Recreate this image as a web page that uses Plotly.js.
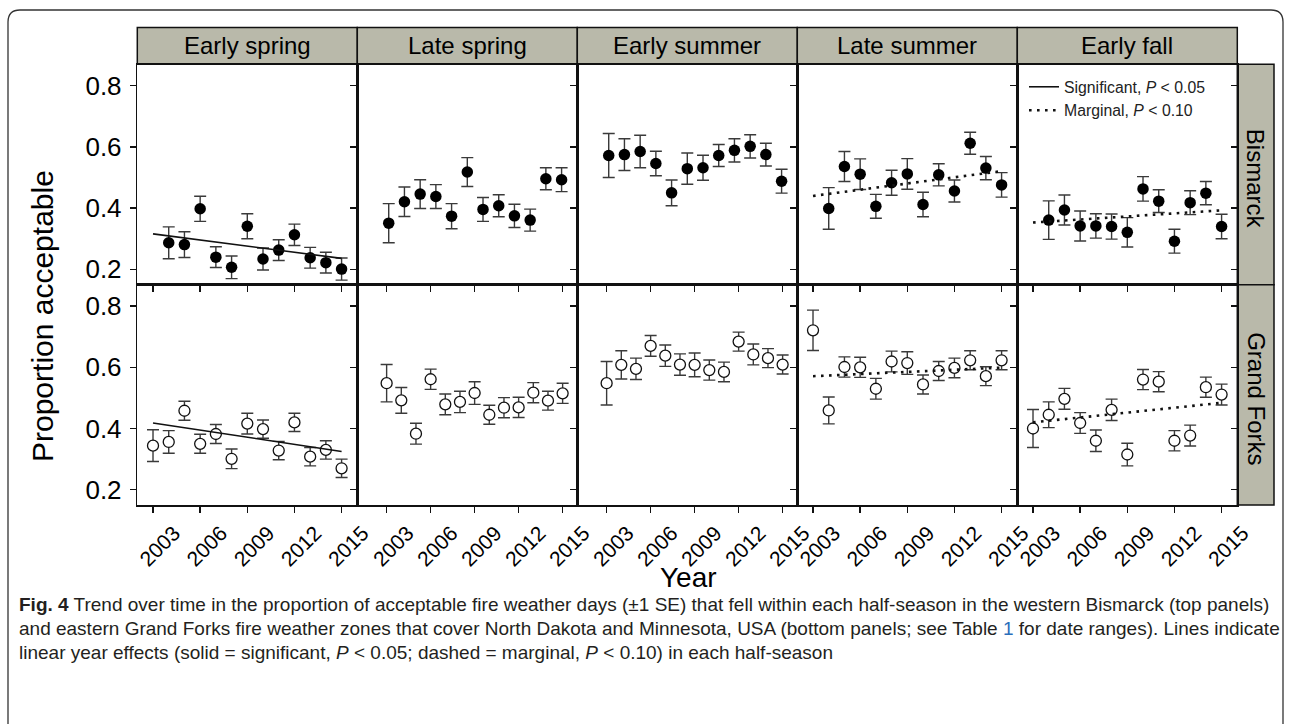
<!DOCTYPE html>
<html>
<head>
<meta charset="utf-8">
<script src="https://cdn.plot.ly/plotly-3.0.1.min.js"></script>
<style>html,body{margin:0;padding:0;background:#fff;}#chart{width:1290px;height:724px;}</style>
</head>
<body>
<div id="chart"></div>
<script>
// ---------------- data ----------------
const seasons = ["Early spring", "Late spring", "Early summer", "Late summer", "Early fall"];
const zones = ["Bismarck", "Grand Forks"];
const yearTicks = [2003, 2006, 2009, 2012, 2015];
const propTicks = [0.2, 0.4, 0.6, 0.8];
const yearsBismarck = [2004, 2005, 2006, 2007, 2008, 2009, 2010, 2011, 2012, 2013, 2014, 2015];
const yearsGrandForks = [2003, 2004, 2005, 2006, 2007, 2008, 2009, 2010, 2011, 2012, 2013, 2014, 2015];
const trendYears = [2003, 2015];

const bisEarlySpring   = [0.287, 0.281, 0.398, 0.240, 0.207, 0.341, 0.234, 0.263, 0.313, 0.238, 0.222, 0.201];
const bisEarlySpringSE = [0.052, 0.042, 0.041, 0.034, 0.037, 0.041, 0.036, 0.034, 0.035, 0.034, 0.034, 0.036];
const bisLateSpring    = [0.351, 0.421, 0.446, 0.438, 0.374, 0.518, 0.396, 0.408, 0.375, 0.361, 0.496, 0.493];
const bisLateSpringSE  = [0.064, 0.048, 0.047, 0.039, 0.041, 0.047, 0.039, 0.036, 0.038, 0.036, 0.036, 0.039];
const bisEarlySummer   = [0.572, 0.575, 0.585, 0.546, 0.450, 0.529, 0.532, 0.572, 0.589, 0.602, 0.575, 0.488];
const bisEarlySummerSE = [0.072, 0.052, 0.053, 0.040, 0.042, 0.051, 0.041, 0.036, 0.038, 0.038, 0.037, 0.039];
const bisLateSummer    = [0.399, 0.536, 0.511, 0.406, 0.483, 0.512, 0.412, 0.509, 0.456, 0.612, 0.531, 0.476];
const bisLateSummerSE  = [0.068, 0.049, 0.050, 0.039, 0.041, 0.050, 0.040, 0.036, 0.036, 0.036, 0.038, 0.040];
const bisEarlyFall     = [0.361, 0.394, 0.342, 0.342, 0.340, 0.321, 0.463, 0.423, 0.292, 0.418, 0.449, 0.340];
const bisEarlyFallSE   = [0.063, 0.049, 0.049, 0.040, 0.041, 0.048, 0.040, 0.037, 0.039, 0.039, 0.038, 0.040];

const gfEarlySpring    = [0.344, 0.356, 0.458, 0.350, 0.382, 0.301, 0.416, 0.398, 0.328, 0.420, 0.308, 0.330, 0.270];
const gfEarlySpringSE  = [0.052, 0.037, 0.031, 0.031, 0.031, 0.032, 0.034, 0.030, 0.030, 0.030, 0.030, 0.030, 0.030];
const gfLateSpring     = [0.548, 0.492, 0.383, 0.561, 0.479, 0.487, 0.516, 0.445, 0.468, 0.469, 0.517, 0.491, 0.515];
const gfLateSpringSE   = [0.061, 0.042, 0.034, 0.033, 0.034, 0.035, 0.037, 0.031, 0.033, 0.033, 0.033, 0.031, 0.033];
const gfEarlySummer    = [0.548, 0.608, 0.595, 0.670, 0.638, 0.609, 0.608, 0.591, 0.585, 0.684, 0.642, 0.630, 0.609];
const gfEarlySummerSE  = [0.071, 0.046, 0.035, 0.034, 0.035, 0.035, 0.039, 0.033, 0.032, 0.031, 0.034, 0.031, 0.031];
const gfLateSummer     = [0.721, 0.459, 0.601, 0.600, 0.530, 0.619, 0.614, 0.544, 0.588, 0.598, 0.623, 0.571, 0.623];
const gfLateSummerSE   = [0.066, 0.044, 0.033, 0.033, 0.034, 0.034, 0.037, 0.031, 0.031, 0.032, 0.031, 0.031, 0.031];
const gfEarlyFall      = [0.400, 0.445, 0.497, 0.418, 0.360, 0.461, 0.315, 0.560, 0.553, 0.360, 0.377, 0.535, 0.511];
const gfEarlyFallSE    = [0.062, 0.042, 0.034, 0.034, 0.035, 0.035, 0.037, 0.033, 0.033, 0.033, 0.034, 0.033, 0.034];

// linear year effects (value at 2003 and 2015)
const bisEarlySpringTrend = [0.316, 0.236];   // significant
const bisLateSummerTrend  = [0.440, 0.521];   // marginal
const bisEarlyFallTrend   = [0.353, 0.393];   // marginal
const gfEarlySpringTrend  = [0.418, 0.325];   // significant
const gfLateSummerTrend   = [0.571, 0.599];   // marginal
const gfEarlyFallTrend    = [0.420, 0.484];   // marginal

const legendSignificant = "Significant, <i>P</i> < 0.05";
const legendMarginal = "Marginal, <i>P</i> < 0.10";
const yTitle = "Proportion acceptable";
const xTitle = "Year";
const captionLines = [
  "<b>Fig. 4</b> Trend over time in the proportion of acceptable fire weather days (±1 SE) that fell within each half-season in the western Bismarck (top panels)",
  "and eastern Grand Forks fire weather zones that cover North Dakota and Minnesota, USA (bottom panels; see Table <span style=\"color:#2a6ebb\">1</span> for date ranges). Lines indicate",
  "linear year effects (solid = significant, <i>P</i> < 0.05; dashed = marginal, <i>P</i> < 0.10) in each half-season"
];

// ---------------- layout helpers ----------------
const W = 1290, H = 724;
const FONT = "Liberation Sans, Arial, Helvetica, sans-serif";
const colX = [137.3, 357.3, 577.3, 797.3, 1017.3, 1237.3];
const rowY = [64.3, 284.7, 505];
const px = x => x / W;
const py = y => 1 - y / H;
const topRange = [2002, 2016];
const bottomRanges = [[2002, 2016], [2001, 2016], [2001, 2016], [2002, 2016], [2002, 2016]];
const yRange = [0.15, 0.87];

const topSeries = [bisEarlySpring, bisLateSpring, bisEarlySummer, bisLateSummer, bisEarlyFall];
const topSE = [bisEarlySpringSE, bisLateSpringSE, bisEarlySummerSE, bisLateSummerSE, bisEarlyFallSE];
const botSeries = [gfEarlySpring, gfLateSpring, gfEarlySummer, gfLateSummer, gfEarlyFall];
const botSE = [gfEarlySpringSE, gfLateSpringSE, gfEarlySummerSE, gfLateSummerSE, gfEarlyFallSE];

const traces = [];
const layout = {
  width: W, height: H,
  margin: {l: 0, r: 0, t: 0, b: 0},
  paper_bgcolor: "#fff", plot_bgcolor: "#fff",
  font: {family: FONT, color: "#000"},
  showlegend: true,
  legend: {x: px(1024), y: py(70), xanchor: "left", yanchor: "top",
           bgcolor: "rgba(0,0,0,0)", font: {family: FONT, size: 15.8, color: "#222"},
           tracegroupgap: 0, itemwidth: 30},
  shapes: [], annotations: []
};

const errStyle = arr => ({type: "data", array: arr, visible: true, color: "#3a3a3a", thickness: 1.4, width: 6});

for (let r = 0; r < 2; r++) {
  for (let c = 0; c < 5; c++) {
    const p = r * 5 + c + 1;
    const xa = "xaxis" + p, ya = "yaxis" + p;
    const isTop = r === 0;
    layout[xa] = {
      domain: [px(colX[c]), px(colX[c + 1])],
      anchor: "y" + p,
      range: isTop ? topRange : bottomRanges[c],
      showgrid: false, zeroline: false,
      showline: true, mirror: true, linecolor: "#111", linewidth: 1.5,
      tickvals: yearTicks, ticktext: yearTicks.map(String),
      ticks: (isTop && (c === 1 || c === 2)) ? "" : "outside",
      ticklen: 6, tickwidth: 1.4, tickcolor: "#111",
      showticklabels: !isTop, tickangle: -45,
      ticklabelshift: 21, ticklabelstandoff: 0,
      tickfont: {family: FONT, size: 21, color: "#000"},
      fixedrange: true
    };
    layout[ya] = {
      domain: [py(rowY[r + 1]), py(rowY[r])],
      anchor: "x" + p,
      range: yRange,
      showgrid: false, zeroline: false,
      showline: true, mirror: true, linecolor: "#111", linewidth: 1.5,
      tickvals: propTicks, ticktext: propTicks.map(v => v.toFixed(1)),
      ticks: "outside", ticklen: 6, tickwidth: 1.4, tickcolor: "#111",
      showticklabels: c === 0, ticklabelstandoff: 3,
      tickfont: {family: FONT, size: 26, color: "#000"},
      fixedrange: true
    };
    const xs = isTop ? yearsBismarck : yearsGrandForks;
    traces.push({
      type: "scatter", mode: "markers",
      x: xs, y: isTop ? topSeries[c] : botSeries[c],
      error_y: errStyle(isTop ? topSE[c] : botSE[c]),
      xaxis: "x" + p, yaxis: "y" + p,
      marker: isTop ? {size: 11.5, color: "#000", line: {width: 0}}
                    : {size: 11, color: "#fff", line: {color: "#111", width: 1.3}},
      showlegend: false, hoverinfo: "x+y", cliponaxis: false
    });
  }
}

// tick-only axes: top-row ticks for late spring / early summer use the bottom-row year scale
[[11, 2, 1], [12, 3, 2]].forEach(([n, p, c]) => {
  layout["xaxis" + n] = {
    domain: [px(colX[c]), px(colX[c + 1])], anchor: "y" + p, overlaying: "x" + p, side: "bottom",
    range: bottomRanges[c], showgrid: false, zeroline: false, showline: false,
    tickvals: yearTicks, ticks: "outside", ticklen: 6, tickwidth: 1.4, tickcolor: "#111",
    showticklabels: false, fixedrange: true
  };
  traces.push({type: "scatter", mode: "markers", x: [null], y: [null], xaxis: "x" + n, yaxis: "y" + p, showlegend: false, hoverinfo: "skip"});
});
// right-side inner ticks of the last column
[[13, 5], [14, 10]].forEach(([n, p]) => {
  layout["yaxis" + n] = {
    anchor: "x" + p, overlaying: "y" + p, side: "right",
    range: yRange, showgrid: false, zeroline: false, showline: false,
    tickvals: propTicks, ticks: "inside", ticklen: 6, tickwidth: 1.4, tickcolor: "#111",
    showticklabels: false, fixedrange: true
  };
  traces.push({type: "scatter", mode: "markers", x: [null], y: [null], xaxis: "x" + p, yaxis: "y" + n, showlegend: false, hoverinfo: "skip"});
});

// trend lines
const solid = {color: "#111", width: 1.6, dash: "solid"};
const dotted = {color: "#111", width: 2.6, dash: "2.6px,5.4px"};
const trends = [
  {y: bisEarlySpringTrend, p: 1, line: solid, name: legendSignificant, show: true},
  {y: gfEarlySpringTrend, p: 6, line: solid, name: legendSignificant, show: false},
  {y: bisLateSummerTrend, p: 4, line: dotted, name: legendMarginal, show: true},
  {y: bisEarlyFallTrend, p: 5, line: dotted, name: legendMarginal, show: false},
  {y: gfLateSummerTrend, p: 9, line: dotted, name: legendMarginal, show: false},
  {y: gfEarlyFallTrend, p: 10, line: dotted, name: legendMarginal, show: false}
];
trends.forEach(t => traces.push({
  type: "scatter", mode: "lines", x: trendYears, y: t.y,
  xaxis: "x" + t.p, yaxis: "y" + t.p, line: t.line,
  name: t.name, showlegend: t.show, hoverinfo: "skip"
}));

// strips
const stripFill = "#b9b9aa";
const stripTop = 27.5;
for (let c = 0; c < 5; c++) {
  layout.shapes.push({type: "rect", xref: "paper", yref: "paper",
    x0: px(colX[c]), x1: px(colX[c + 1]), y0: py(rowY[0]), y1: py(stripTop),
    fillcolor: stripFill, line: {color: "#111", width: 1.5}, layer: "below"});
  layout.annotations.push({xref: "paper", yref: "paper", x: px((colX[c] + colX[c + 1]) / 2), y: py((stripTop + rowY[0]) / 2),
    text: seasons[c], showarrow: false, font: {family: FONT, size: 24, color: "#000"}, xanchor: "center", yanchor: "middle"});
}
const stripRight = 1274;
for (let r = 0; r < 2; r++) {
  layout.shapes.push({type: "rect", xref: "paper", yref: "paper",
    x0: px(colX[5]), x1: px(stripRight), y0: py(rowY[r + 1]), y1: py(rowY[r]),
    fillcolor: stripFill, line: {color: "#111", width: 1.5}, layer: "below"});
  layout.annotations.push({xref: "paper", yref: "paper", x: px((colX[5] + stripRight) / 2), y: py((rowY[r] + rowY[r + 1]) / 2 + 4),
    text: zones[r], textangle: 90, showarrow: false, font: {family: FONT, size: 24, color: "#000"}, xanchor: "center", yanchor: "middle"});
}

// outer rounded frame
const fx0 = 8, fy0 = 10, fx1 = 1283, fy1 = 724, rad = 12;
layout.shapes.push({type: "path", xref: "paper", yref: "paper", layer: "below",
  path: `M ${px(fx0)} ${py(fy1)} L ${px(fx0)} ${py(fy0 + rad)} Q ${px(fx0)} ${py(fy0)} ${px(fx0 + rad)} ${py(fy0)} L ${px(fx1 - rad)} ${py(fy0)} Q ${px(fx1)} ${py(fy0)} ${px(fx1)} ${py(fy0 + rad)} L ${px(fx1)} ${py(fy1)}`,
  line: {color: "#333", width: 1.3}});

// axis titles
layout.annotations.push({xref: "paper", yref: "paper", x: px(42), y: py(316), text: yTitle, textangle: -90,
  showarrow: false, font: {family: FONT, size: 30, color: "#000"}, xanchor: "center", yanchor: "middle"});
layout.annotations.push({xref: "paper", yref: "paper", x: px(688), y: py(577), text: xTitle,
  showarrow: false, font: {family: FONT, size: 28, color: "#000"}, xanchor: "center", yanchor: "middle"});

// caption
const capY = [604, 628, 652];
captionLines.forEach((t, i) => layout.annotations.push({xref: "paper", yref: "paper", x: px(17), y: py(capY[i]),
  text: t, showarrow: false, align: "left", xanchor: "left", yanchor: "middle",
  font: {family: FONT, size: 19, color: "#231f20"}}));

Plotly.newPlot("chart", traces, layout, {staticPlot: true, displayModeBar: false});
</script>
</body>
</html>
